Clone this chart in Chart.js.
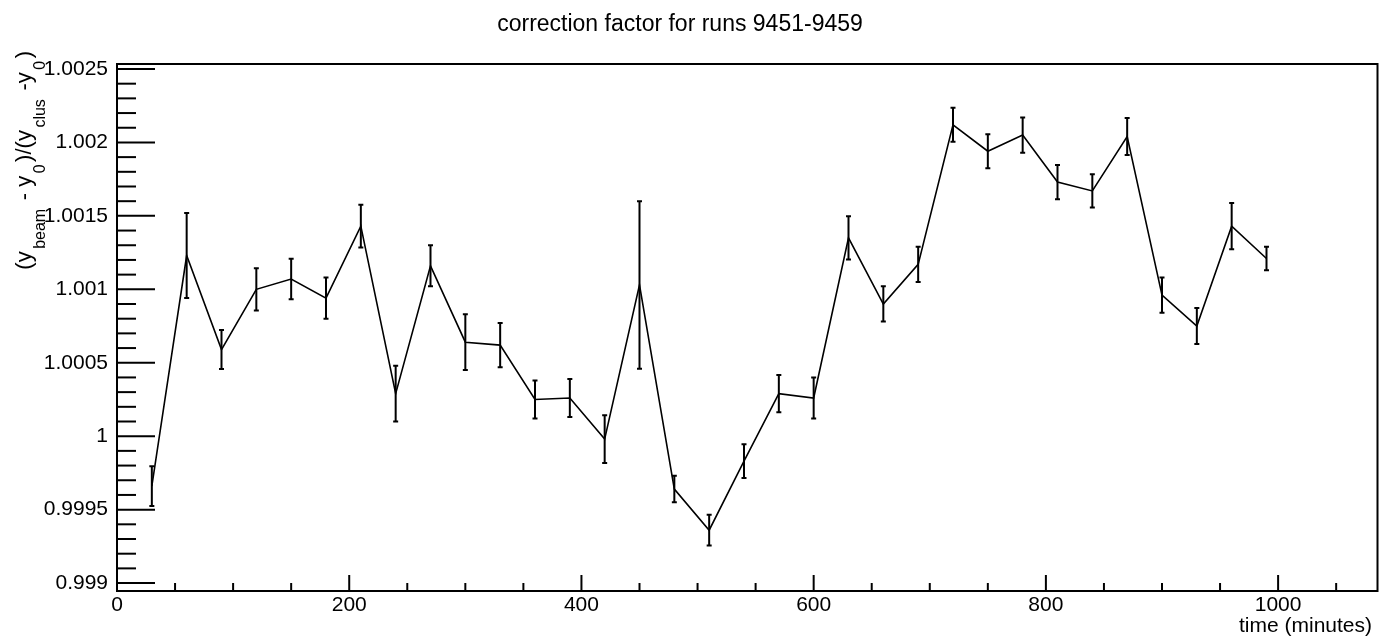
<!DOCTYPE html>
<html>
<head>
<meta charset="utf-8">
<script src="https://cdn.jsdelivr.net/npm/chart.js@4.4.1/dist/chart.umd.min.js"></script>
<style>
html,body{margin:0;padding:0;background:#fff;}
#wrap{width:1380px;height:637px;}
</style>
</head>
<body>
<div id="wrap"><canvas id="c" width="1380" height="637"></canvas></div>
<script>
// ---- data ----
const times = [30,60,90,120,150,180,210,240,270,300,330,360,390,420,450,480,510,540,570,600,630,660,690,720,750,780,810,840,870,900,930,960,990];
const values = [0.99966,1.00123,1.00059,1.00100,1.00107,1.00094,1.00143,1.00029,1.00116,1.00064,1.00062,1.00025,1.00026,0.99998,1.00103,0.99964,0.99936,0.99983,1.00029,1.00026,1.00135,1.00090,1.00117,1.00212,1.00194,1.00205,1.00173,1.00167,1.00204,1.00096,1.00075,1.00143,1.00121];
const errors = [0.000135,0.00029,0.000133,0.000144,0.000138,0.00014,0.000145,0.00019,0.00014,0.00019,0.00015,0.00013,0.00013,0.000163,0.00057,0.00009,0.000105,0.000115,0.000127,0.00014,0.000147,0.00012,0.00012,0.000116,0.000116,0.00012,0.000117,0.000113,0.000126,0.00012,0.000122,0.000157,0.00008];
const xTickValues = [0,200,400,600,800,1000];
const xTickLabels = ['0','200','400','600','800','1000'];
const yTickValues = [0.999,0.9995,1.0,1.0005,1.001,1.0015,1.002,1.0025];
const yTickLabels = ['0.999','0.9995','1','1.0005','1.001','1.0015','1.002','1.0025'];
const titleText = 'correction factor for runs 9451-9459';
const xTitleText = 'time (minutes)';

const FONT = '"Liberation Sans", Arial, Helvetica, sans-serif';

const rootPlugin = {
  id: 'rootStyle',
  afterDraw(chart) {
    const ctx = chart.ctx;
    const a = chart.chartArea;
    const xs = chart.scales.x, ys = chart.scales.y;
    ctx.save();
    // frame
    ctx.strokeStyle = '#000';
    ctx.lineWidth = 2;
    ctx.strokeRect(a.left, a.top, a.right - a.left, a.bottom - a.top);
    // x ticks (inside, upward)
    for (let v = 0; v <= xs.max; v += 50) {
      const px = xs.getPixelForValue(v);
      const len = (v % 200 === 0) ? 16 : 8;
      ctx.beginPath(); ctx.moveTo(px, a.bottom); ctx.lineTo(px, a.bottom - len); ctx.stroke();
    }
    // y ticks (inside, rightward)
    for (let k = 9989; k <= 10026; k++) {
      const v = k / 10000;
      if (v < ys.min || v > ys.max) continue;
      const py = ys.getPixelForValue(v);
      const len = (k % 5 === 0) ? 38 : 19;
      ctx.beginPath(); ctx.moveTo(a.left, py); ctx.lineTo(a.left + len, py); ctx.stroke();
    }
    // error bars
    ctx.lineWidth = 2;
    for (let i = 0; i < times.length; i++) {
      const px = xs.getPixelForValue(times[i]);
      const pt = ys.getPixelForValue(values[i] + errors[i]);
      const pb = ys.getPixelForValue(values[i] - errors[i]);
      ctx.beginPath();
      ctx.moveTo(px, pt); ctx.lineTo(px, pb);
      ctx.moveTo(px - 2.5, pt); ctx.lineTo(px + 2.5, pt);
      ctx.moveTo(px - 2.5, pb); ctx.lineTo(px + 2.5, pb);
      ctx.stroke();
    }
    // title
    ctx.fillStyle = '#000';
    ctx.font = '23px ' + FONT;
    ctx.textAlign = 'center';
    ctx.textBaseline = 'alphabetic';
    ctx.fillText(titleText, 680, 31);
    // x axis title
    ctx.font = '21px ' + FONT;
    ctx.textAlign = 'right';
    ctx.fillText(xTitleText, 1372, 631.5);
    // y axis title with subscripts, rotated
    const segs = [
      ['(y', false], ['beam', true], [' - y', false], ['0', true], [')/(y', false], ['clus', true], [' -y', false], ['0', true], [')', false]
    ];
    const mainF = '22px ' + FONT, subF = '16px ' + FONT;
    const widths = segs.map(s => { ctx.font = s[1] ? subF : mainF; return ctx.measureText(s[0]).width; });
    const gap = 2.5;
    const total = widths.reduce((p, c) => p + c, 0) + gap * (segs.length - 1);
    ctx.rotate(-Math.PI / 2);
    let pos = -(51 + total);
    ctx.textAlign = 'left';
    segs.forEach((s, i) => {
      ctx.font = s[1] ? subF : mainF;
      ctx.fillText(s[0], pos, s[1] ? 45 : 30.5);
      pos += widths[i] + gap;
    });
    ctx.restore();
  }
};

new Chart(document.getElementById('c'), {
  type: 'scatter',
  data: {
    datasets: [{
      data: times.map((t, i) => ({ x: t, y: values[i] })),
      showLine: true,
      borderColor: '#000',
      backgroundColor: '#000',
      borderWidth: 1.6,
      pointRadius: 0,
      tension: 0
    }]
  },
  options: {
    responsive: false,
    animation: false,
    devicePixelRatio: 1,
    layout: { padding: { top: 64, right: 2.5, left: 0, bottom: 0 } },
    plugins: { legend: { display: false }, tooltip: { enabled: false }, title: { display: false } },
    scales: {
      x: {
        type: 'linear', min: 0, max: 1085.6,
        grid: { display: false, drawTicks: false },
        border: { display: false },
        afterFit: s => { s.height = 46; },
        afterBuildTicks: s => { s.ticks = xTickValues.map(v => ({ value: v })); },
        ticks: {
          autoSkip: false, maxRotation: 0, padding: 2, color: '#000',
          font: { family: FONT, size: 21 },
          callback: (v) => { const i = xTickValues.indexOf(v); return i >= 0 ? xTickLabels[i] : ''; }
        }
      },
      y: {
        type: 'linear', min: 0.998946, max: 1.002534,
        grid: { display: false, drawTicks: false },
        border: { display: false },
        afterFit: s => { s.width = 117; },
        afterBuildTicks: s => { s.ticks = yTickValues.map(v => ({ value: v })); },
        ticks: {
          autoSkip: false, padding: 9, color: '#000',
          font: { family: FONT, size: 21 },
          callback: (v) => { const i = yTickValues.findIndex(t => Math.abs(t - v) < 1e-9); return i >= 0 ? yTickLabels[i] : ''; }
        }
      }
    }
  },
  plugins: [rootPlugin]
});
</script>
</body>
</html>
